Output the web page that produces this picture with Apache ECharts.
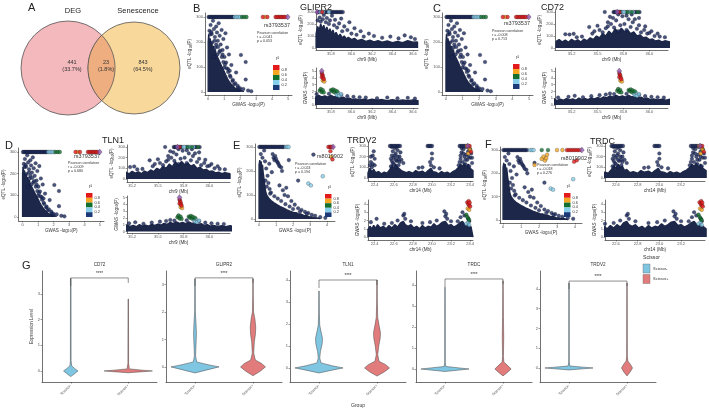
<!DOCTYPE html>
<html>
<head>
<meta charset="utf-8">
<script src="https://cdn.jsdelivr.net/npm/echarts@6/dist/echarts.min.js"></script>
<style>html,body{margin:0;padding:0;background:#fff}#main{width:709px;height:411px}</style>
</head>
<body>
<div id="main"></div>
<script>
var FONT = '"Liberation Sans", Arial, sans-serif';
var NAVY = '#1d2749';
var EQTL_CAP = 300;

// ---- A: venn
var vennSets = ['DEG', 'Senescence'];
var vennValues = [441, 843, 23];          // DEG only, Senescence only, both
var vennPct = ['33.7%', '64.5%', '1.8%'];

// ---- r2 colours: navy, skyblue, darkgreen, orange, red, lead
var r2Colors = ['#1c2a5e', '#87ceeb', '#13702f', '#f5a623', '#e31a1c', '#8e55ab'];
var legendColors = ['#e31a1c', '#f5a623', '#13702f', '#87ceeb', '#1d3a78'];
var legendLabels = ['0.8', '0.6', '0.4', '0.2'];

// ---- tick values / labels
var capTicks = [0, 100, 200, 300];
var bPosTicks = [35.8, 36.0, 36.2, 36.4, 36.6];
var bPosLabels = ['35.8', '36.0', '36.2', '36.4', '36.6'];
var c9Ticks = [35.25, 35.5, 35.75, 36.0];
var c9Labels = ['35.2', '35.5', '35.8', '36.0'];
var ePosTicks = [22.4, 22.6, 22.8, 23.0, 23.2, 23.4];
var ePosLabels = ['22.4', '22.6', '22.8', '23.0', '23.2', '23.4'];
var fPosTicks = [22.6, 22.8, 23.0, 23.2];
var fPosLabels = ['22.6', '22.8', '23.0', '23.2'];

// ---- chr9 scatter (GWAS vs eQTL), shared by B, C, D
var s9Band = [[0,0],[0,200],[0.03,230],[0.07,205],[0.12,215],[0.17,190],[0.22,200],[0.27,175],[0.32,185],[0.38,160],[0.44,170],[0.5,150],[0.56,158],[0.62,135],[0.68,142],[0.74,118],[0.8,125],[0.86,100],[0.92,105],[0.98,85],[1.04,88],[1.1,68],[1.16,72],[1.22,52],[1.28,55],[1.35,38],[1.42,40],[1.5,26],[1.6,22],[1.7,14],[1.85,10],[2.0,6],[2.2,3],[2.2,0]];
var s9Pts = [[0.08,245],[0.15,268],[0.22,232],[0.3,285],[0.36,252],[0.42,220],[0.5,262],[0.55,238],[0.6,205],[0.66,275],[0.72,225],[0.78,190],[0.84,248],[0.9,168],[0.95,212],[1.02,140],[1.08,235],[1.12,118],[1.18,178],[1.24,92],[1.3,150],[1.36,66],[1.45,108],[1.52,44],[1.62,30],[1.75,78],[1.86,18],[2.05,148],[2.35,120],[2.35,50],[2.5,6],[2.7,3],[1.95,10],[0.45,178],[0.25,198],[0.7,160],[1.0,98],[0.12,230],[0.35,140],[0.58,150],[0.5,190],[0.62,180],[0.75,165],[0.85,140],[0.95,120],[1.05,110],[1.15,95],[1.25,80],[1.4,60],[1.55,48],[1.7,35],[1.85,25],[2.0,15],[2.2,12],[0.9,150],[0.4,205],[0.2,240],[1.35,85]];
var s9Top = [[0.03,0],[0.1,0],[0.18,0],[0.24,0],[0.31,0],[0.39,0],[0.46,0],[0.52,0],[0.6,0],[0.67,0],[0.75,0],[0.82,0],[0.9,0],[0.97,0],[1.05,0],[1.12,0],[1.2,0],[1.27,0],[1.35,0],[1.43,0],[1.5,0],[1.58,0],[1.66,1],[1.75,1],[1.83,1],[1.92,1],[2.01,1],[2.12,2],[2.26,2],[2.4,2],[3.42,4],[3.57,3],[3.71,4],[4.22,4],[4.31,4],[4.4,4],[4.49,4],[4.58,4],[4.66,4],[4.75,4],[4.84,4],[4.98,5]];

// ---- GLIPR2 eQTL locus (B)
var bEqBand = [[35.655,0],[35.655,120],[35.67,180],[35.685,150],[35.7,200],[35.715,160],[35.73,190],[35.745,140],[35.76,175],[35.775,130],[35.79,160],[35.805,120],[35.82,150],[35.835,105],[35.85,130],[35.87,95],[35.89,115],[35.91,85],[35.93,100],[35.95,75],[35.97,90],[36.0,70],[36.03,80],[36.06,60],[36.1,72],[36.14,55],[36.18,65],[36.22,50],[36.26,60],[36.3,48],[36.35,58],[36.4,45],[36.45,55],[36.5,45],[36.55,60],[36.6,48],[36.645,50],[36.645,0]];
var bEqPts = [[35.67,230],[35.69,255],[35.7,220],[35.72,240],[35.73,275],[35.75,215],[35.76,250],[35.78,200],[35.79,230],[35.81,270],[35.83,190],[35.84,235],[35.86,170],[35.88,205],[35.9,245],[35.91,140],[35.93,180],[35.96,150],[35.98,215],[36.0,120],[36.03,165],[36.05,110],[36.09,140],[36.12,95],[36.17,120],[36.22,100],[36.3,85],[36.38,95],[36.46,80],[36.52,105],[36.58,90],[36.62,75]];
var bEqTop = [[35.675,0],[35.685,0],[35.695,1],[35.705,0],[35.715,4],[35.725,1],[35.735,0],[35.75,0],[35.765,0],[35.78,1],[35.795,0],[35.81,0],[35.825,0],[35.84,0],[35.855,0],[35.87,0],[35.885,0],[35.9,0],[35.915,0],[35.665,5]];

// ---- CD72 / TLN1 eQTL locus (C, D)
var tEqBand = [[35.1,0],[35.1,55],[35.13,70],[35.16,50],[35.19,65],[35.22,48],[35.25,72],[35.28,55],[35.31,68],[35.34,50],[35.37,75],[35.4,60],[35.43,85],[35.46,70],[35.49,100],[35.52,85],[35.55,120],[35.58,100],[35.61,140],[35.64,115],[35.67,160],[35.7,130],[35.73,165],[35.76,135],[35.79,150],[35.82,120],[35.85,135],[35.88,100],[35.91,110],[35.94,85],[35.97,90],[36.0,70],[36.03,75],[36.06,58],[36.09,65],[36.12,50],[36.15,60],[36.2,50],[36.2,0]];
var tEqPts = [[35.19,115],[35.23,112],[35.27,118],[35.42,175],[35.47,140],[35.5,185],[35.55,130],[35.57,300],[35.58,165],[35.6,215],[35.63,200],[35.65,250],[35.66,170],[35.68,230],[35.7,140],[35.72,190],[35.74,265],[35.76,200],[35.78,150],[35.8,240],[35.82,175],[35.84,215],[35.86,240],[35.88,160],[35.9,190],[35.92,130],[35.95,150],[35.98,120],[36.0,125],[36.05,100],[36.1,95],[35.45,120],[35.52,150],[35.6,180],[35.62,260],[35.7,280],[35.78,270],[35.83,280],[35.9,250],[35.96,180],[36.02,140],[35.35,95],[35.3,90],[36.08,120],[36.15,90]];
var tEqTop = [[35.655,0],[35.665,0],[35.675,0],[35.7,0],[35.71,4],[35.72,0],[35.73,0],[35.745,1],[35.76,1],[35.775,0],[35.79,2],[35.8,1],[35.815,1],[35.83,2],[35.845,1],[35.86,0],[35.875,0],[35.89,2],[35.905,0],[35.69,5]];

// ---- chr9 GWAS locus (B, C, D)
var g9Band = [[35.05,0],[35.05,0.7],[35.08,0.9],[35.11,0.65],[35.14,0.85],[35.17,0.7],[35.2,0.95],[35.23,0.75],[35.26,0.9],[35.29,0.7],[35.32,1.0],[35.35,0.8],[35.38,0.95],[35.41,0.8],[35.44,1.05],[35.47,0.9],[35.5,1.1],[35.53,0.95],[35.56,1.2],[35.59,1.05],[35.62,1.35],[35.65,1.15],[35.68,1.4],[35.71,1.2],[35.74,1.35],[35.77,1.15],[35.8,1.4],[35.83,1.2],[35.86,1.3],[35.89,1.05],[35.92,1.15],[35.95,0.9],[35.98,1.0],[36.01,0.8],[36.04,0.9],[36.08,0.75],[36.12,0.85],[36.16,0.7],[36.2,0.85],[36.25,0.7],[36.3,0.8],[36.35,0.65],[36.4,0.8],[36.45,0.65],[36.5,0.75],[36.55,0.65],[36.6,0.75],[36.65,0.65],[36.65,0]];
var g9Pts = [[35.12,1.1],[35.22,1.2],[35.28,1.35],[35.36,1.15],[35.44,1.3],[35.52,1.45],[35.58,1.55],[35.62,1.7],[35.66,1.6],[35.78,1.65],[35.9,1.5],[35.96,1.3],[36.02,1.2],[36.08,1.15],[36.14,1.1],[36.25,1.0],[36.35,1.1],[36.45,1.0],[36.55,1.05],[36.62,0.95]];
var g9Col = [[35.69,2.1,2],[35.7,2.35,2],[35.71,1.9,2],[35.72,2.2,2],[35.73,1.85,2],[35.8,2.2,2],[35.81,2.05,2],[35.82,2.3,2],[35.83,1.9,2],[35.84,2.15,2],[35.86,2.0,2],[35.85,1.7,1],[35.86,1.45,1],[35.87,1.8,1],[35.88,1.35,1],[35.9,1.6,1],[35.71,4.7,4],[35.715,4.5,4],[35.72,4.3,4],[35.71,4.1,4],[35.725,4.0,4],[35.73,3.8,4],[35.72,3.6,3],[35.735,3.45,3],[35.71,5.0,5]];

// ---- chr14 scatter (E, F)
var s14Band = [[0,0],[0,225],[0.04,245],[0.08,220],[0.12,240],[0.16,215],[0.2,225],[0.24,195],[0.28,200],[0.32,150],[0.36,125],[0.4,110],[0.45,100],[0.5,92],[0.55,95],[0.6,84],[0.66,88],[0.72,76],[0.8,80],[0.88,68],[0.96,72],[1.05,60],[1.15,62],[1.25,52],[1.35,54],[1.45,45],[1.55,46],[1.65,38],[1.75,40],[1.85,32],[1.95,34],[2.05,27],[2.2,26],[2.35,20],[2.5,20],[2.65,14],[2.8,14],[2.95,10],[3.1,9],[3.25,6],[3.4,5],[3.6,2],[3.6,0]];
var s14Pts = [[0.1,270],[0.2,255],[0.3,285],[0.35,240],[0.42,210],[0.5,180],[0.55,150],[0.62,125],[0.7,110],[0.8,270],[0.85,255],[0.9,245],[0.95,262],[1.0,250],[1.05,240],[1.1,235],[1.15,228],[1.2,220],[1.3,215],[1.35,200],[1.4,120],[1.5,100],[1.7,95],[1.9,75],[2.1,60],[2.3,45],[2.5,38],[2.7,30],[2.9,25],[3.1,18],[3.3,14],[3.6,8],[3.9,5],[2.3,160],[1.2,140],[1.6,130],[0.75,195],[0.6,230],[1.75,245],[0.38,160],[0.45,135],[0.65,105],[0.9,95],[1.1,85],[1.3,75],[1.55,62],[1.8,52],[2.0,42],[2.4,30],[2.8,22]];
var eTop = [[0.02,0],[0.09,0],[0.16,0],[0.23,0],[0.3,0],[0.37,0],[0.45,0],[0.52,0],[0.6,0],[0.68,0],[0.75,0],[0.83,0],[0.9,0],[0.98,0],[1.06,0],[1.14,0],[1.22,0],[1.3,0],[1.38,0],[1.46,0],[1.58,1],[1.66,1],[1.74,1],[4.08,4],[4.16,4],[4.22,4],[4.28,4],[4.36,5]];
var eCol = [[2.9,148,1],[3.05,140,1],[3.2,268,0],[3.75,178,1],[4.2,282,4],[4.25,258,3],[4.32,248,4]];
var fTop = [[0.02,0],[0.1,0],[0.17,0],[0.25,0],[0.32,0],[0.4,0],[0.47,0],[0.55,0],[0.62,0],[0.7,0],[0.78,0],[0.85,0],[0.93,0],[1.01,0],[1.09,0],[1.17,0],[1.25,0],[1.33,0],[1.5,1],[1.6,1],[1.7,1],[2.15,2],[2.5,2],[3.0,3],[3.3,3],[3.55,4],[3.65,4],[3.75,4],[3.85,4],[3.95,4],[4.05,4],[4.15,4],[4.25,4],[4.38,5]];
var fCol = [[1.75,236,3],[2.15,262,3],[2.25,272,3],[2.33,255,3],[2.45,280,3],[2.4,265,3],[2.65,135,1],[2.78,130,1],[3.9,175,1],[3.95,250,4],[4.1,256,4]];

// ---- chr14 eQTL locus (E, F)
var q14Band = [[22.33,0],[22.33,50],[22.35,90],[22.37,60],[22.39,80],[22.41,50],[22.44,60],[22.47,40],[22.5,55],[22.53,45],[22.56,80],[22.58,120],[22.6,90],[22.62,130],[22.64,100],[22.66,110],[22.68,70],[22.7,80],[22.73,50],[22.76,60],[22.8,45],[22.83,70],[22.86,55],[22.9,65],[22.93,45],[22.96,70],[22.99,90],[23.01,60],[23.04,55],[23.07,40],[23.1,60],[23.13,45],[23.16,55],[23.19,40],[23.22,60],[23.25,75],[23.28,100],[23.3,130],[23.32,110],[23.34,140],[23.36,100],[23.38,130],[23.4,90],[23.43,70],[23.43,0]];
var q14Pts = [[22.35,120],[22.36,150],[22.37,100],[22.39,250],[22.4,180],[22.38,130],[22.57,110],[22.58,160],[22.58,210],[22.59,250],[22.6,130],[22.6,190],[22.61,280],[22.62,100],[22.62,230],[22.63,160],[22.64,260],[22.65,120],[22.66,200],[22.67,240],[22.68,170],[22.7,140],[22.86,95],[22.9,100],[23.0,230],[22.99,120],[23.02,100],[23.08,90],[23.28,120],[23.3,180],[23.31,240],[23.32,150],[23.33,270],[23.34,200],[23.35,130],[23.36,220],[23.37,170],[23.38,250],[23.39,110],[23.4,190],[23.41,230],[23.42,140],[22.57,180],[22.59,140],[22.61,210],[22.63,290],[22.65,170],[22.64,200],[22.62,170],[22.58,290],[22.66,150],[23.3,210],[23.31,280],[23.33,230],[23.35,170],[23.36,290],[23.38,200],[23.4,270],[23.42,190],[23.29,150],[22.36,200],[22.38,210],[22.4,120],[22.98,150],[23.0,180]];
var q14Top = [[22.56,0],[22.575,0],[22.59,0],[22.605,0],[22.62,0],[22.635,0],[22.65,0],[22.665,0],[22.955,0],[22.97,0],[22.985,0],[23.0,0],[23.29,0],[23.305,0],[23.32,0],[23.335,0],[23.35,0],[23.365,3],[23.38,4],[23.395,4],[23.375,5]];
var q14Col = [[23.39,280,3],[23.4,262,3],[23.41,245,4],[23.38,230,3]];

// ---- chr14 GWAS locus (E, F)
var w14Band = [[22.33,0],[22.33,0.9],[22.35,1.3],[22.37,1.0],[22.39,1.4],[22.41,1.05],[22.43,1.5],[22.46,1.1],[22.49,1.3],[22.52,1.0],[22.55,1.4],[22.58,1.1],[22.61,1.5],[22.64,1.2],[22.67,1.7],[22.7,1.9],[22.72,1.5],[22.75,1.3],[22.78,1.5],[22.81,1.1],[22.84,1.3],[22.87,1.0],[22.9,1.4],[22.93,1.1],[22.96,1.3],[22.99,1.2],[23.02,1.6],[23.05,1.3],[23.08,1.5],[23.11,1.8],[23.14,1.9],[23.17,1.4],[23.2,1.5],[23.23,1.2],[23.26,1.4],[23.29,1.7],[23.32,1.9],[23.35,1.4],[23.38,1.5],[23.41,1.2],[23.43,1.0],[23.43,0]];
var w14Pts = [[22.36,1.8],[22.42,2.2],[22.5,1.6],[22.58,1.7],[22.64,2.0],[22.7,2.6],[22.71,2.8],[22.72,2.2],[22.78,1.9],[22.9,1.7],[22.98,1.8],[23.05,2.0],[23.13,3.1],[23.14,2.5],[23.15,2.8],[23.16,2.2],[23.2,1.9],[23.27,1.9],[23.3,2.4],[23.32,3.0],[23.34,2.6],[23.38,2.2],[23.39,1.9]];
var w14Col = [[23.36,1.6,1],[23.38,1.8,1],[23.39,1.45,1],[23.36,2.7,2],[23.37,2.45,2],[23.38,2.25,2],[23.39,2.05,2],[23.375,3.45,3],[23.39,3.3,3],[23.37,4.2,4],[23.38,4.0,4],[23.385,4.35,4],[23.39,3.85,4],[23.395,4.15,4],[23.4,3.7,4],[23.378,4.55,5]];

// ---- G: violins, profiles are [expression, half width as share of half band]
var vlnGenes = ['CD72', 'GLIPR2', 'TLN1', 'TRDC', 'TRDV2'];
var vlnGroups = ['Scissor-', 'Scissor+'];
var cd72Neg = [[-0.22,0],[-0.12,0.12],[0,0.25],[0.1,0.13],[0.2,0.03],[0.4,0.012],[3.6,0.01]];
var cd72Pos = [[-0.07,0],[-0.03,0.5],[0,0.84],[0.03,0.5],[0.08,0.04],[0.3,0.012],[2.8,0.008]];
var glipr2Neg = [[-0.22,0],[-0.1,0.45],[0,0.83],[0.08,0.45],[0.18,0.06],[0.4,0.02],[0.8,0.035],[1.2,0.05],[1.6,0.035],[2.0,0.012],[3.2,0.008]];
var glipr2Pos = [[-0.32,0],[-0.15,0.26],[0,0.43],[0.12,0.3],[0.25,0.08],[0.5,0.025],[0.9,0.045],[1.2,0.085],[1.45,0.095],[1.75,0.065],[2.0,0.02],[2.6,0.01],[3.2,0.008]];
var tln1Neg = [[-0.23,0],[-0.1,0.45],[0,0.83],[0.1,0.45],[0.23,0.07],[0.45,0.025],[0.75,0.05],[1.1,0.11],[1.35,0.12],[1.65,0.07],[1.95,0.025],[2.5,0.012],[3.5,0.008]];
var tln1Pos = [[-0.37,0],[-0.18,0.25],[0,0.43],[0.15,0.3],[0.3,0.07],[0.6,0.025],[1.0,0.06],[1.35,0.11],[1.6,0.12],[1.95,0.07],[2.3,0.025],[3.0,0.012],[4.0,0.008]];
var trdcNeg = [[-0.12,0],[-0.05,0.5],[0,0.83],[0.05,0.5],[0.12,0.03],[0.3,0.01],[3.9,0.008]];
var trdcPos = [[-0.33,0],[-0.15,0.16],[0,0.28],[0.15,0.17],[0.33,0.03],[0.6,0.015],[1.5,0.025],[2.5,0.015],[4.2,0.008]];
var trdv2Neg = [[-0.1,0],[-0.04,0.5],[0,0.83],[0.04,0.5],[0.1,0.03],[0.3,0.01],[4.3,0.008]];
var trdv2Pos = [[-0.4,0],[-0.2,0.11],[0,0.19],[0.18,0.12],[0.35,0.03],[0.6,0.012],[4.3,0.008]];
var vlnProfiles = [[cd72Neg, cd72Pos], [glipr2Neg, glipr2Pos], [tln1Neg, tln1Pos], [trdcNeg, trdcPos], [trdv2Neg, trdv2Pos]];
var vlnSig = [3.62, 3.24, 4.0, 4.29, 4.4];
var vlnStars = '****';
var vlnColors = ['#7fc6e3', '#e27c7c'];

// ---------------- layout ----------------
var vennGeo = {c1: [68, 68], c2: [134, 68], r1: 47, r2: 46, labelY: 11, textPos: [[72, 66], [143, 66], [106, 66]]};
var vennFill = ['#f3b9bd', '#f9d89c', '#efae80'];

var panels = [
  {letter: 'B', gene: 'GLIPR2', snp: 'rs3793537', r: '-0.041', p: '0.053', chr: 'chr9',
   sc: [205, 13, 87, 82], scX: [-0.2, 5.25], scY: [-12, 316], scXt: [0, 1, 2, 3, 4, 5],
   eq: [316, 10, 102, 40], eqY: [-17, 317], gw: [316, 68, 102, 40], gwY: [-0.44, 5.44], gwYt: [0, 1, 2, 3, 4, 5],
   pos: [35.654, 36.65], posT: bPosTicks, posL: bPosLabels,
   scBand: s9Band, scPts: s9Pts, scTop: s9Top, scCol: [],
   eqBand: bEqBand, eqPts: bEqPts, eqTop: bEqTop, eqCol: [],
   gwBand: g9Band, gwPts: g9Pts, gwCol: g9Col,
   at: {letter: [193, 9], title: [300, 8], rs: [290, 25], pe: [257, 33], lg: [273, 65, 5]}},
  {letter: 'C', gene: 'CD72', snp: 'rs3793537', r: '-0.008', p: '0.713', chr: 'chr9',
   sc: [442, 13, 91, 82], scX: [-0.24, 5.24], scY: [-12, 316], scXt: [0, 1, 2, 3, 4, 5],
   eq: [555, 10, 113, 40], eqY: [-17, 317], gw: [555, 68, 113, 40], gwY: [-0.44, 5.44], gwYt: [0, 1, 2, 3, 4, 5],
   pos: [35.09, 36.18], posT: c9Ticks, posL: c9Labels,
   scBand: s9Band, scPts: s9Pts, scTop: s9Top, scCol: [],
   eqBand: tEqBand, eqPts: tEqPts, eqTop: tEqTop, eqCol: [],
   gwBand: g9Band, gwPts: g9Pts, gwCol: g9Col,
   at: {letter: [433, 9], title: [541, 8], rs: [530, 23], pe: [492, 31], lg: [513, 64, 5]}},
  {letter: 'D', gene: 'TLN1', snp: 'rs3793537', r: '-0.009', p: '0.680', chr: 'chr9',
   sc: [18, 148, 86, 73], scX: [-0.26, 5.26], scY: [-18.5, 318.5], scXt: [0, 1, 2, 3, 4, 5],
   eq: [127, 145, 103, 37], eqY: [-28, 319], gw: [127, 196, 103, 37], gwY: [-0.22, 5.22], gwYt: [0, 1, 2, 3, 4, 5],
   pos: [35.2, 36.2], posT: c9Ticks, posL: c9Labels,
   scBand: s9Band, scPts: s9Pts, scTop: s9Top, scCol: [],
   eqBand: tEqBand, eqPts: tEqPts, eqTop: tEqTop, eqCol: [],
   gwBand: g9Band, gwPts: g9Pts, gwCol: g9Col,
   at: {letter: [5, 146], title: [102, 141], rs: [100, 156], pe: [68, 163], lg: [86, 193, 4.8]}},
  {letter: 'E', gene: 'TRDV2', snp: 'rs8019902', r: '-0.024', p: '0.194', chr: 'chr14',
   sc: [255, 144, 80, 77], scX: [-0.24, 4.47], scY: [-8, 312], scXt: [0, 1, 2, 3, 4],
   eq: [368, 143, 105, 38], eqY: [-28, 328], gw: [368, 200, 105, 40], gwY: [-0.36, 4.48], gwYt: [0, 1, 2, 3, 4],
   pos: [22.33, 23.43], posT: ePosTicks, posL: ePosLabels,
   scBand: s14Band, scPts: s14Pts, scTop: eTop, scCol: eCol,
   eqBand: q14Band, eqPts: q14Pts, eqTop: q14Top, eqCol: q14Col,
   gwBand: w14Band, gwPts: w14Pts, gwCol: w14Col,
   at: {letter: [233, 146], title: [347, 141], rs: [343, 156], pe: [295, 164], lg: [325, 194, 4.6]}},
  {letter: 'F', gene: 'TRDC', snp: 'rs8019902', r: '-0.018', p: '0.276', chr: 'chr14',
   sc: [500, 147, 82, 76], scX: [-0.17, 4.39], scY: [-13, 313], scXt: [0, 1, 2, 3, 4],
   eq: [605, 143, 100, 38], eqY: [-28, 328], gw: [605, 200, 100, 40], gwY: [-0.36, 4.48], gwYt: [0, 1, 2, 3, 4],
   pos: [22.5, 23.42], posT: fPosTicks, posL: fPosLabels,
   scBand: s14Band, scPts: s14Pts, scTop: fTop, scCol: fCol,
   eqBand: q14Band, eqPts: q14Pts, eqTop: q14Top, eqCol: q14Col,
   gwBand: w14Band, gwPts: w14Pts, gwCol: w14Col,
   at: {letter: [485, 145], title: [590, 142], rs: [587, 158], pe: [537, 165], lg: [564, 193, 4.8]}}
];

var vlnLayout = [[42, 271, 115, 111], [166, 271, 116, 111], [290, 271, 116, 111], [416, 271, 116, 111], [540, 271, 116, 111]];
var vlnRange = [[-0.43, 3.89], [-0.55, 3.49], [-0.64, 4.41], [-0.62, 4.67], [-0.71, 4.91]];
var vlnTicks = [[0, 1, 2, 3], [0, 1, 2, 3], [0, 1, 2, 3, 4], [0, 1, 2, 3, 4], [0, 1, 2, 3, 4]];

// ---------------- builders ----------------
var grids = [], xAxes = [], yAxes = [], series = [], gfx = [];
var subRich = {s: {fontSize: 3.2, fontFamily: FONT, color: '#333', padding: [2, 0, 0, 0]}};

function addGrid(r) {
    grids.push({left: r[0], top: r[1], width: r[2], height: r[3]});
    return grids.length - 1;
}

function valAxis(gi, range, ticks, labels, name, gap, vertical) {
    return {
        type: 'value', gridIndex: gi, min: range[0], max: range[1],
        axisLine: {show: true, onZero: false, lineStyle: {color: '#333', width: 0.7}},
        axisTick: {show: true, length: 1.5, customValues: ticks, lineStyle: {color: '#333', width: 0.5}},
        axisLabel: {fontSize: 4, color: '#555', margin: 2, fontFamily: FONT, customValues: ticks,
            formatter: function (v) {
                var i = ticks.indexOf(v);
                return labels && i >= 0 ? labels[i] : String(v);
            }},
        splitLine: {show: false},
        name: name, nameLocation: 'middle', nameGap: gap, nameRotate: vertical ? 90 : 0,
        nameTextStyle: {fontSize: 4.6, color: '#333', fontFamily: FONT, rich: subRich}
    };
}

function T(x, y, s, size, o) {
    o = o || {};
    var al = o.align || 'left';
    return {type: 'text', x: x, y: y, silent: true, z: 100, rotation: o.rot || 0,
        style: {text: s, fontSize: size, fontFamily: FONT, fontWeight: o.bold ? 'bold' : 'normal',
            fill: o.color || '#222', textAlign: al, align: al,
            textVerticalAlign: 'middle', verticalAlign: 'middle'}};
}

function bandSeries(g, band) {
    return {type: 'line', xAxisIndex: g, yAxisIndex: g, data: band, symbol: 'none', silent: true, z: 2,
        lineStyle: {color: NAVY, width: 1.4}, areaStyle: {color: NAVY, opacity: 1}};
}
function ptSeries(g, pts) {
    return {type: 'scatter', xAxisIndex: g, yAxisIndex: g, data: pts, symbolSize: 3.6, silent: true, z: 3,
        itemStyle: {color: '#1c2a5e', borderColor: '#0b0f22', borderWidth: 0.35}};
}
function colSeries(g, col) {
    var d = col.slice().sort(function (a, b) { return a[2] - b[2]; });
    return {type: 'scatter', xAxisIndex: g, yAxisIndex: g, data: d, silent: true, z: 4,
        symbol: function (v) { return v[2] === 5 ? 'diamond' : 'circle'; },
        symbolSize: function (v) { return v[2] === 5 ? [5, 6] : 3.8; },
        itemStyle: {color: function (pr) { return r2Colors[pr.value[2]]; }, borderColor: '#111', borderWidth: 0.3}};
}
function capped(top) {
    return top.map(function (d) { return [d[0], EQTL_CAP, d[1]]; });
}

// ---- venn
var vg = addGrid([0, 0, 200, 130]);
xAxes.push({type: 'value', gridIndex: vg, min: 0, max: 200, show: false});
yAxes.push({type: 'value', gridIndex: vg, min: 0, max: 130, inverse: true, show: false});
series.push({
    type: 'custom', xAxisIndex: vg, yAxisIndex: vg, silent: true, z: 1,
    data: vennValues.map(function (v, i) { return [i, v]; }),
    renderItem: function (params, api) {
        var i = params.dataIndex;
        var p1 = api.coord(vennGeo.c1), p2 = api.coord(vennGeo.c2);
        var k = api.size([1, 0])[0];
        var r1 = vennGeo.r1 * k, r2 = vennGeo.r2 * k;
        var line = {stroke: '#555', lineWidth: 0.8};
        var kids = [];
        if (i < 2) {
            var c = i === 0 ? p1 : p2;
            kids.push({type: 'circle', shape: {cx: c[0], cy: c[1], r: i === 0 ? r1 : r2},
                style: {fill: vennFill[i], stroke: line.stroke, lineWidth: line.lineWidth}});
            var ly = api.coord([0, vennGeo.labelY])[1];
            kids.push({type: 'text', x: c[0] + (i === 0 ? 5 : 4), y: ly,
                style: {text: vennSets[i], fontSize: 7.5, fontFamily: FONT, fill: '#222',
                    align: 'center', textAlign: 'center', verticalAlign: 'middle', textVerticalAlign: 'middle'}});
        } else {
            var d = p2[0] - p1[0];
            var a = (d * d + r1 * r1 - r2 * r2) / (2 * d);
            var h = Math.sqrt(r1 * r1 - a * a);
            var phiR = Math.atan2(h, d - a), phiL = Math.atan2(h, a);
            var pts = [], n = 30, j, ang;
            for (j = 0; j <= n; j++) {
                ang = Math.PI + phiR - 2 * phiR * j / n;
                pts.push([p2[0] + r2 * Math.cos(ang), p2[1] + r2 * Math.sin(ang)]);
            }
            for (j = 0; j <= n; j++) {
                ang = phiL - 2 * phiL * j / n;
                pts.push([p1[0] + r1 * Math.cos(ang), p1[1] + r1 * Math.sin(ang)]);
            }
            kids.push({type: 'polygon', shape: {points: pts},
                style: {fill: vennFill[2], stroke: line.stroke, lineWidth: line.lineWidth}});
        }
        var tp = api.coord(vennGeo.textPos[i]);
        kids.push({type: 'text', x: tp[0], y: tp[1],
            style: {text: api.value(1) + '\n(' + vennPct[i] + ')', fontSize: 5.5, lineHeight: 7, fontFamily: FONT,
                fill: '#333', align: 'center', textAlign: 'center', verticalAlign: 'middle', textVerticalAlign: 'middle'}});
        return {type: 'group', children: kids};
    }
});
gfx.push(T(28, 8, 'A', 11));

// ---- coloc panels
var gwasName = 'GWAS -log{s|10}(P)';
var eqtlName = 'eQTL -log{s|10}(P)';
panels.forEach(function (p) {
    var gs = addGrid(p.sc);
    xAxes.push(valAxis(gs, p.scX, p.scXt, null, gwasName, 7, false));
    yAxes.push(valAxis(gs, p.scY, capTicks, null, eqtlName, 10, true));
    series.push(bandSeries(gs, p.scBand), ptSeries(gs, p.scPts), colSeries(gs, capped(p.scTop).concat(p.scCol)));

    var ge = addGrid(p.eq);
    xAxes.push(valAxis(ge, p.pos, p.posT, p.posL, p.chr + ' (Mb)', 7, false));
    yAxes.push(valAxis(ge, p.eqY, capTicks, null, eqtlName, 10, true));
    series.push(bandSeries(ge, p.eqBand), ptSeries(ge, p.eqPts), colSeries(ge, capped(p.eqTop).concat(p.eqCol)));

    var gw = addGrid(p.gw);
    xAxes.push(valAxis(gw, p.pos, p.posT, p.posL, p.chr + ' (Mb)', 7, false));
    yAxes.push(valAxis(gw, p.gwY, p.gwYt, null, gwasName, 7, true));
    series.push(bandSeries(gw, p.gwBand), ptSeries(gw, p.gwPts), colSeries(gw, p.gwCol));

    var at = p.at;
    gfx.push(T(at.letter[0], at.letter[1], p.letter, 11));
    gfx.push(T(at.title[0], at.title[1], p.gene, 9));
    gfx.push(T(at.rs[0], at.rs[1], p.snp, 5.5, {align: 'right', color: '#333'}));
    gfx.push(T(at.pe[0], at.pe[1], 'Pearson correlation', 3.6, {color: '#333'}));
    gfx.push(T(at.pe[0], at.pe[1] + 4.2, 'r = ' + p.r, 3.6, {color: '#333'}));
    gfx.push(T(at.pe[0], at.pe[1] + 8.4, 'p = ' + p.p, 3.6, {color: '#333'}));
    var lx = at.lg[0], ly = at.lg[1], bh = at.lg[2];
    gfx.push(T(lx + 3, ly - 6, 'r\u00b2', 4.5, {color: '#333'}));
    legendColors.forEach(function (c, i) {
        gfx.push({type: 'rect', silent: true, z: 100, shape: {x: lx, y: ly + i * bh, width: 6.5, height: bh}, style: {fill: c}});
    });
    legendLabels.forEach(function (s, i) {
        gfx.push(T(lx + 8.5, ly + (i + 1) * bh, s, 3.8, {color: '#333'}));
    });
});

// ---- violins
vlnGenes.forEach(function (gene, g) {
    var gi = addGrid(vlnLayout[g]);
    xAxes.push({type: 'category', gridIndex: gi, data: vlnGroups,
        axisLine: {show: true, onZero: false, lineStyle: {color: '#333', width: 0.7}},
        axisTick: {show: true, alignWithLabel: true, length: 1.5, lineStyle: {color: '#333', width: 0.5}},
        axisLabel: {rotate: 45, fontSize: 3.8, margin: 3, color: '#555', fontFamily: FONT}});
    yAxes.push(valAxis(gi, vlnRange[g], vlnTicks[g], null, g === 0 ? 'Expression Level' : '', 8, true));
    series.push({
        type: 'custom', xAxisIndex: gi, yAxisIndex: gi, silent: true, z: 3,
        data: [[0, 0], [1, 0]],
        renderItem: function (params, api) {
            var ci = api.value(0);
            var prof = vlnProfiles[g][ci];
            var cx = api.coord([ci, 0])[0];
            var hb = api.size([1, 0])[0] / 2;
            var right = prof.map(function (q) { return [cx + q[1] * hb, api.coord([ci, q[0]])[1]]; });
            var left = prof.slice().reverse().map(function (q) { return [cx - q[1] * hb, api.coord([ci, q[0]])[1]]; });
            return {type: 'polygon', shape: {points: right.concat(left)},
                style: {fill: vlnColors[ci], stroke: '#444', lineWidth: 0.5}};
        }
    });
    series.push({
        type: 'custom', xAxisIndex: gi, yAxisIndex: gi, silent: true, z: 4,
        data: [[0, vlnSig[g]]],
        renderItem: function (params, api) {
            var y = api.coord([0, api.value(1)])[1];
            var x0 = api.coord([0, 0])[0], x1 = api.coord([1, 0])[0];
            return {type: 'group', children: [
                {type: 'polyline', shape: {points: [[x0, y + 8], [x0, y], [x1, y], [x1, y + 5]]},
                    style: {stroke: '#444', lineWidth: 0.6, fill: null}},
                {type: 'text', x: (x0 + x1) / 2, y: y - 4,
                    style: {text: vlnStars, fontSize: 4.5, fontFamily: FONT, fill: '#333',
                        align: 'center', textAlign: 'center', verticalAlign: 'middle', textVerticalAlign: 'middle'}}
            ]};
        }
    });
    var r = vlnLayout[g];
    gfx.push(T(r[0] + r[2] / 2, 265, gene, 4.6, {align: 'center', color: '#333'}));
});
gfx.push(T(22, 266, 'G', 11));
gfx.push(T(358, 406, 'Group', 5, {align: 'center', color: '#333'}));
gfx.push(T(643, 258, 'Scissor', 5.2, {color: '#333'}));
vlnGroups.forEach(function (s, i) {
    gfx.push({type: 'rect', silent: true, z: 100, shape: {x: 643, y: 264 + i * 10.5, width: 7, height: 9},
        style: {fill: vlnColors[i], stroke: '#666', lineWidth: 0.4}});
    gfx.push(T(653, 268.5 + i * 10.5, s, 4, {color: '#333'}));
});

var myChart = echarts.init(document.getElementById('main'));
var option = {
    animation: false,
    backgroundColor: '#fff',
    grid: grids,
    xAxis: xAxes,
    yAxis: yAxes,
    series: series,
    graphic: {elements: gfx}
};
myChart.setOption(option);
</script>
</body>
</html>
